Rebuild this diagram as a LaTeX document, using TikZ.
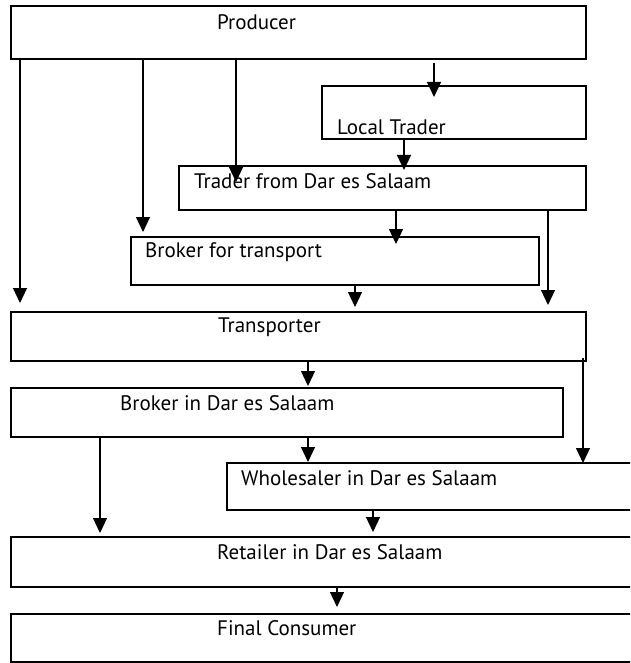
\documentclass[tikz,border=0pt]{standalone}
\usepackage{fontspec}
\setmainfont{PT Sans}
\usepackage{tikz}
\usetikzlibrary{arrows.meta,positioning}
\newcommand{\lblfont}{\fontsize{21}{25}\selectfont}
\tikzstyle{box} = [draw, line width=1.6pt, rectangle, inner sep=0pt, outer sep=0pt]
\tikzstyle{lbl} = [anchor=west, inner sep=0pt, font=\lblfont]
\tikzstyle{flow} = [line width=1.2pt, -{Triangle[width=14pt,length=15pt]}]

\begin{document}
\begin{tikzpicture}[x=1pt, y=-1pt]
\clip (0,0) rectangle (630,663);
% Boxes
\node[box, minimum width=575pt, minimum height=53pt] (producer) at (298.5,32.5) {};
\node[box, minimum width=264pt, minimum height=53pt] (localtrader) at (454,112.5) {};
\node[box, minimum width=407pt, minimum height=44pt] (dartrader) at (382.5,188) {};
\node[box, minimum width=408pt, minimum height=48pt] (transbroker) at (335,261) {};
\node[box, minimum width=575pt, minimum height=49pt] (transporter) at (298.5,336.5) {};
\node[box, minimum width=552pt, minimum height=49pt] (darbroker) at (287,412.5) {};
\node[box, minimum width=423pt, minimum height=47pt] (wholesaler) at (438.5,486.5) {};
\node[box, minimum width=639pt, minimum height=50pt] (retailer) at (330.5,562) {};
\node[box, minimum width=639pt, minimum height=48pt] (consumer) at (330.5,638) {};

% Labels
\node[lbl] (producertxt) at (217,22) {Producer};
\node[lbl] (localtradertxt) at (337,127) {Local Trader};
\node[lbl] (dartradertxt) at (194,181) {Trader from Dar es Salaam};
\node[lbl] (transbrokertxt) at (145,252) {Broker for transport};
\node[lbl] (transportertxt) at (218,327) {Transporter};
\node[lbl] (darbrokertxt) at (120,403) {Broker in Dar es Salaam};
\node[lbl] (wholesalertxt) at (241,478) {Wholesaler in Dar es Salaam};
\node[lbl] (retailertxt) at (217,552) {Retailer in Dar es Salaam};
\node[lbl] (consumertxt) at (217,628) {Final Consumer};

% Arrows from the producer
\draw[flow, shorten >=9pt] (producer.south -| 20,0) -- (transporter.north -| 20,0);
\draw[flow, shorten >=5pt] (producer.south -| 143,0) -- (transbroker.north -| 143,0);
\draw[flow, shorten >=-16pt] (producer.south -| 236,0) -- (dartrader.north -| 236,0);
\draw[flow, shorten <=4pt, shorten >=-11pt] (producer.south -| 434,0) -- (localtrader.north -| 434,0);

% Traders
\draw[flow, shorten >=-4pt] (localtrader.south -| 404,0) -- (dartrader.north -| 404,0);
\draw[flow, shorten >=-7pt] (dartrader.south -| 396,0) -- (transbroker.north -| 396,0);
\draw[flow, shorten >=7pt] (dartrader.south -| 548,0) -- (transporter.north -| 548,0);
\draw[flow, shorten >=5pt] (transbroker.south -| 355,0) -- (transporter.north -| 355,0);

% Transport to Dar es Salaam
\draw[flow, shorten >=2pt] (transporter.south -| 308,0) -- (darbroker.north -| 308,0);
\draw[flow, shorten <=-3pt] (transporter.south -| 583,0) -- (wholesaler.north -| 583,0);
\draw[flow, shorten >=1pt] (darbroker.south -| 308,0) -- (wholesaler.north -| 308,0);
\draw[flow, shorten >=4pt] (darbroker.south -| 100,0) -- (retailer.north -| 100,0);
\draw[flow, shorten >=5pt] (wholesaler.south -| 373,0) -- (retailer.north -| 373,0);
\draw[flow, shorten >=7pt] (retailer.south -| 337,0) -- (consumer.north -| 337,0);
\end{tikzpicture}
\end{document}
